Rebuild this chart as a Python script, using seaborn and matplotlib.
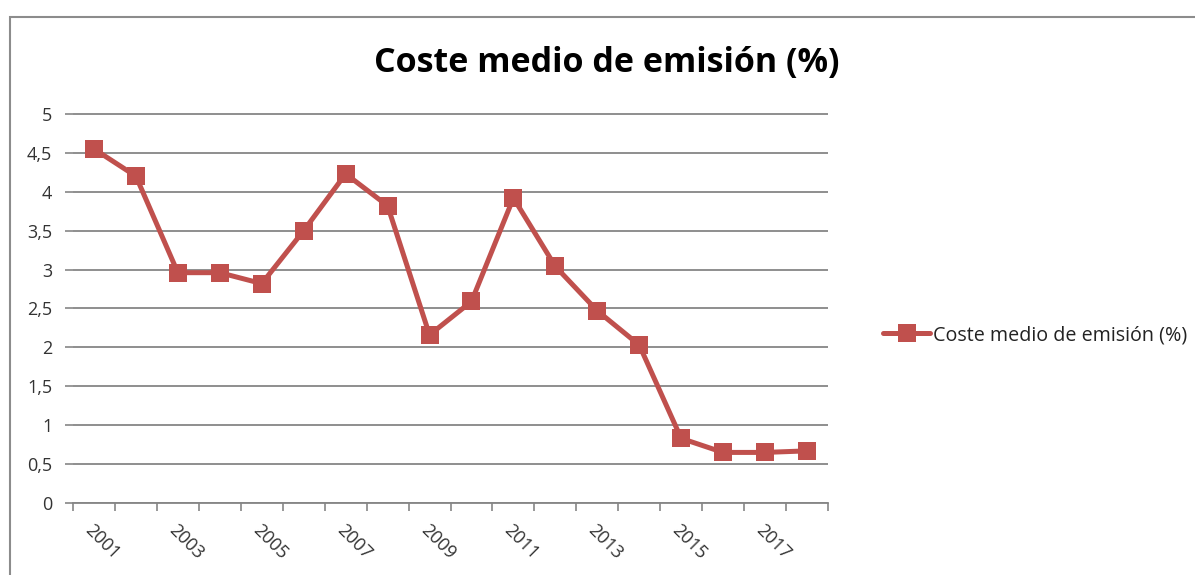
import matplotlib
matplotlib.use("Agg")
import matplotlib.pyplot as plt
import seaborn as sns
import pandas as pd
import numpy as np
from matplotlib.patches import Rectangle
from matplotlib.ticker import FixedLocator

years = list(range(2001, 2019))
values = [4.55, 4.20, 2.96, 2.96, 2.82, 3.50, 4.23, 3.82, 2.16,
          2.59, 3.92, 3.04, 2.47, 2.03, 0.83, 0.65, 0.65, 0.67]
series_name = "Coste medio de emisión (%)"
title = "Coste medio de emisión (%)"
tick_years = list(range(2001, 2018, 2))
ytick_vals = [0, 0.5, 1, 1.5, 2, 2.5, 3, 3.5, 4, 4.5, 5]
ytick_labels = ["0", "0,5", "1", "1,5", "2", "2,5", "3", "3,5", "4", "4,5", "5"]

df = pd.DataFrame({"year": years, "value": values, "serie": series_name})

sns.set_theme(style="white")
plt.rcParams["font.family"] = ["Open Sans", "DejaVu Sans"]

W, H = 1195, 575
fig = plt.figure(figsize=(W / 100, H / 100), dpi=100)
fig.patch.set_facecolor("white")

# outer chart border
fig.add_artist(Rectangle((10 / W, -0.1), 1.2, (1 - 17 / H) + 0.1,
                         transform=fig.transFigure, fill=False,
                         edgecolor="#8c8c8c", linewidth=1.5))

ax = fig.add_axes([73 / W, 1 - 503 / H, (828 - 73) / W, (503 - 113) / H])
color = "#C0504D"
sns.lineplot(data=df, x="year", y="value", hue="serie", palette=[color],
             marker="s", markersize=12.5, markeredgewidth=0, linewidth=3.6,
             ax=ax)

ax.set_xlim(2000.5, 2018.5)
ax.set_ylim(0, 5.012)
ax.set_yticks(ytick_vals)
ax.set_yticklabels(ytick_labels, fontsize=13, color="#333333")
ax.yaxis.grid(True, color="#868686", linewidth=1.3)
ax.xaxis.grid(False)
ax.set_axisbelow(True)

ax.xaxis.set_major_locator(FixedLocator(tick_years))
ax.set_xticklabels([str(y) for y in tick_years], rotation=-45, ha="left",
                   rotation_mode="anchor", fontsize=13, color="#333333")
ax.xaxis.set_minor_locator(FixedLocator(np.arange(2000.5, 2018.6, 1.0)))
ax.tick_params(axis="x", which="major", length=0, pad=13)
ax.tick_params(axis="x", which="minor", length=6, width=1.2, color="#868686",
               direction="out", bottom=True)
ax.tick_params(axis="y", which="major", length=6, width=1.2, color="#868686",
               direction="out", left=True, pad=9)

for s in ["top", "right", "left"]:
    ax.spines[s].set_visible(False)
ax.spines["bottom"].set_color("#868686")
ax.spines["bottom"].set_linewidth(1.3)
ax.set_xlabel("")
ax.set_ylabel("")

fig.text(607 / W, 1 - 63 / H, title, ha="center", va="center",
         fontsize=24.5, fontweight="bold", color="black")

leg = ax.legend(loc="center left", bbox_to_anchor=(875 / W, 1 - 335 / H),
                bbox_transform=fig.transFigure, frameon=False, fontsize=14.2,
                handlelength=2.4, handletextpad=0.15, borderaxespad=0)
for t in leg.get_texts():
    t.set_color("#222222")

fig.savefig("out.png", dpi=100, facecolor="white")
